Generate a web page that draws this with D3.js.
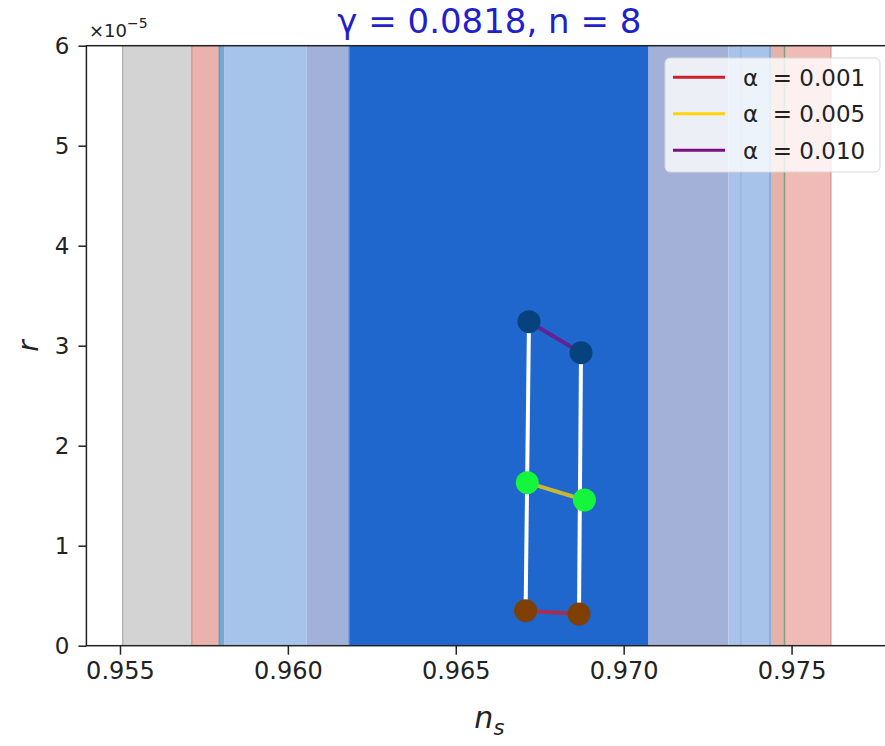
<!DOCTYPE html>
<html>
<head>
<meta charset="utf-8">
<script src="https://cdn.jsdelivr.net/npm/d3@7"></script>
<style>
body { margin: 0; background: white; }
svg { display: block; font-family: 'DejaVu Sans', sans-serif; }
</style>
</head>
<body>
<script>
width = 885;
height = 746;
margin = { top: 45.7, right: -7.3, bottom: 100.3, left: 86.4 }

// vertical n_s bands, drawn left to right
band_lo = [0.95508, 0.95714, 0.95796, 0.95810, 0.96056, 0.96183, 0.97074, 0.97312, 0.97436, 0.97479];
band_hi = [0.95714, 0.95796, 0.95810, 0.96056, 0.96183, 0.97074, 0.97312, 0.97436, 0.97479, 0.97617];
band_fill = ['#d3d3d3', '#ebb1ac', '#74aad2', '#a6c3ea', '#a2b1d9', '#1f66cd', '#a3b0d8', '#a7c3ea', '#e4b3a7', '#f0bbb6'];
// thin outline edges of the bands
edge_pos = [0.95508, 0.95714, 0.95796, 0.96183, 0.97349, 0.97436, 0.97479, 0.97617];
edge_color = ['#b5b5b5', '#d99893', '#5f9cc6', '#4d86dc', '#97b2dc', '#78a5e4', '#7fa07a', '#e09c96'];

alphas = ['0.001', '0.005', '0.010'];
alpha_colors = ['#cf1f2b', '#ffd400', '#7a0f7f'];
dot_colors = ['#7f3f00', '#14f53c', '#06427e'];
// predictions (n_s, r in units of 1e-5), one pair per alpha
ns_left = [0.96708, 0.96713, 0.96718];
r_left = [0.35, 1.63, 3.24];
ns_right = [0.96867, 0.96883, 0.96873];
r_right = [0.317, 1.457, 2.93];

x_ticks = [0.955, 0.960, 0.965, 0.970, 0.975];
y_ticks = [0, 1, 2, 3, 4, 5, 6];

x = d3.scaleLinear()
    .domain([0.954, 0.978])
    .range([margin.left, width - margin.right]);
y = d3.scaleLinear()
    .domain([0, 6])
    .range([height - margin.bottom, margin.top]);

const svg = d3.select('body')
    .append('svg')
    .attr('width', width)
    .attr('height', height);

// bands
svg.append('g')
    .selectAll('rect')
    .data(band_lo)
    .join('rect')
    .attr('x', d => x(d))
    .attr('y', y(6))
    .attr('width', (d, i) => x(band_hi[i]) - x(d))
    .attr('height', y(0) - y(6))
    .attr('fill', (d, i) => band_fill[i]);

svg.append('g')
    .selectAll('line')
    .data(edge_pos)
    .join('line')
    .attr('x1', d => x(d))
    .attr('x2', d => x(d))
    .attr('y1', y(6))
    .attr('y2', y(0))
    .attr('stroke', (d, i) => edge_color[i])
    .attr('stroke-width', 1.5);

// white lines joining the two ends of each N track
svg.append('line')
    .attr('x1', x(ns_left[0])).attr('y1', y(r_left[0]))
    .attr('x2', x(ns_left[2])).attr('y2', y(r_left[2]))
    .attr('stroke', 'white').attr('stroke-width', 4);
svg.append('line')
    .attr('x1', x(ns_right[0])).attr('y1', y(r_right[0]))
    .attr('x2', x(ns_right[2])).attr('y2', y(r_right[2]))
    .attr('stroke', 'white').attr('stroke-width', 4);

// alpha segments
svg.append('g')
    .selectAll('line')
    .data(alphas)
    .join('line')
    .attr('x1', (d, i) => x(ns_left[i]))
    .attr('y1', (d, i) => y(r_left[i]))
    .attr('x2', (d, i) => x(ns_right[i]))
    .attr('y2', (d, i) => y(r_right[i]))
    .attr('stroke', (d, i) => alpha_colors[i])
    .attr('stroke-opacity', 0.75)
    .attr('stroke-width', 4);

// dots
var dots = svg.append('g');
alphas.forEach(function(a, i) {
    dots.append('circle')
        .attr('cx', x(ns_left[i])).attr('cy', y(r_left[i]))
        .attr('r', 11.5).attr('fill', dot_colors[i]);
    dots.append('circle')
        .attr('cx', x(ns_right[i])).attr('cy', y(r_right[i]))
        .attr('r', 11.5).attr('fill', dot_colors[i]);
});

// axes
xAxis = g => g
    .attr('transform', `translate(0,${y(0)})`)
    .call(d3.axisBottom(x).tickValues(x_ticks).tickSize(9).tickPadding(7).tickFormat(d3.format('.3f')))
    .call(g => g.select('.domain').remove())
    .call(g => g.selectAll('.tick line').attr('stroke', '#222').attr('stroke-width', 1.5))
    .call(g => g.selectAll('.tick text').attr('font-size', 24).attr('fill', '#222').attr('font-family', 'DejaVu Sans'));

yAxis = g => g
    .attr('transform', `translate(${x(0.954)},0)`)
    .call(d3.axisLeft(y).tickValues(y_ticks).tickSize(8).tickPadding(9).tickFormat(d3.format('d')))
    .call(g => g.select('.domain').remove())
    .call(g => g.selectAll('.tick line').attr('stroke', '#222').attr('stroke-width', 1.5))
    .call(g => g.selectAll('.tick text').attr('font-size', 23).attr('fill', '#222').attr('font-family', 'DejaVu Sans'));

svg.append('g').call(xAxis);
svg.append('g').call(yAxis);

// frame (right spine falls outside the page)
svg.append('rect')
    .attr('x', x(0.954))
    .attr('y', y(6))
    .attr('width', x(0.978) - x(0.954))
    .attr('height', y(0) - y(6))
    .attr('fill', 'none')
    .attr('stroke', '#222')
    .attr('stroke-width', 1.5);

// offset text for the y axis
var off = svg.append('text')
    .attr('x', 89)
    .attr('y', 37)
    .attr('font-size', 18)
    .attr('fill', '#222');
off.append('tspan').text('×10');
off.append('tspan').attr('dy', -9).attr('font-size', 14).text('−5');

// title
svg.append('text')
    .attr('x', (x(0.954) + x(0.978)) / 2)
    .attr('y', 33)
    .attr('text-anchor', 'middle')
    .attr('font-size', 34)
    .attr('fill', '#1f1fcc')
    .text('γ = 0.0818, n = 8');

// axis labels
var xl = svg.append('text')
    .attr('x', (x(0.954) + x(0.978)) / 2)
    .attr('y', 728)
    .attr('text-anchor', 'middle')
    .attr('font-size', 30)
    .attr('font-style', 'italic')
    .attr('fill', '#222');
xl.append('tspan').text('n');
xl.append('tspan').attr('dy', 7).attr('font-size', 21).text('s');

svg.append('text')
    .attr('transform', 'translate(38,346) rotate(-90)')
    .attr('text-anchor', 'middle')
    .attr('font-size', 28)
    .attr('font-style', 'italic')
    .attr('fill', '#222')
    .text('r');

// legend
var legend = svg.append('g')
    .attr('class', 'legend')
    .attr('transform', 'translate(665,58)');
legend.append('rect')
    .attr('width', 215)
    .attr('height', 114)
    .attr('rx', 5)
    .attr('fill', 'white')
    .attr('fill-opacity', 0.8)
    .attr('stroke', '#d8d8d8');
var rows = legend.selectAll('g')
    .data(alphas)
    .join('g')
    .attr('transform', (d, i) => `translate(0,${19.3 + i * 36.5})`);
rows.append('line')
    .attr('x1', 8).attr('x2', 60)
    .attr('stroke', (d, i) => alpha_colors[i])
    .attr('stroke-width', 3);
rows.append('text')
    .attr('x', 78)
    .attr('dy', '0.36em')
    .attr('font-size', 23)
    .attr('fill', '#222')
    .style('white-space', 'pre')
    .text(d => 'α  = ' + d);
</script>
</body>
</html>
